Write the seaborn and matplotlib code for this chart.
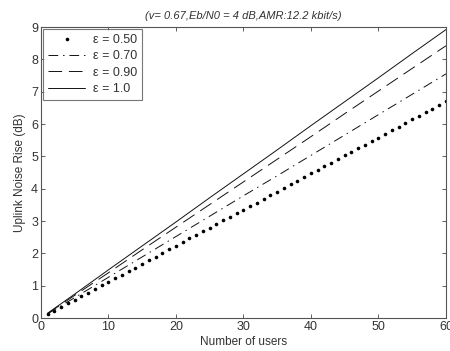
import matplotlib
matplotlib.use("Agg")
import matplotlib.pyplot as plt
import seaborn as sns

users_dense = list(range(1, 61))
nr_050 = [0.11, 0.22, 0.34, 0.45, 0.56, 0.67, 0.78, 0.89, 1.01, 1.12,
          1.23, 1.34, 1.45, 1.56, 1.68, 1.79, 1.90, 2.01, 2.12, 2.23,
          2.35, 2.46, 2.57, 2.68, 2.79, 2.90, 3.02, 3.13, 3.24, 3.35,
          3.46, 3.57, 3.69, 3.80, 3.91, 4.02, 4.13, 4.24, 4.36, 4.47,
          4.58, 4.69, 4.80, 4.91, 5.03, 5.14, 5.25, 5.36, 5.47, 5.58,
          5.70, 5.81, 5.92, 6.03, 6.14, 6.25, 6.37, 6.48, 6.59, 6.70]

users = [1, 5, 10, 15, 20, 25, 30, 35, 40, 45, 50, 55, 60]
nr_070 = [0.13, 0.63, 1.26, 1.89, 2.52, 3.15, 3.78, 4.40, 5.03, 5.66, 6.29, 6.92, 7.55]
nr_090 = [0.14, 0.70, 1.40, 2.11, 2.81, 3.51, 4.21, 4.91, 5.61, 6.32, 7.02, 7.72, 8.42]
nr_100 = [0.15, 0.74, 1.49, 2.23, 2.97, 3.72, 4.46, 5.20, 5.95, 6.69, 7.43, 8.18, 8.92]

labels = ["ε = 0.50", "ε = 0.70", "ε = 0.90", "ε = 1.0"]
title = "(v= 0.67,Eb/N0 = 4 dB,AMR:12.2 kbit/s)"
xlabel = "Number of users"
ylabel = "Uplink Noise Rise (dB)"
xticks = [0, 10, 20, 30, 40, 50, 60]
yticks = [0, 1, 2, 3, 4, 5, 6, 7, 8, 9]

sns.set_style("white")
plt.rcParams["font.family"] = ["Liberation Sans", "DejaVu Sans"]

fig = plt.figure(figsize=(4.5, 3.51), dpi=100)
ax = fig.add_axes([0.091, 0.094, 0.9, 0.829])

sns.lineplot(x=users_dense, y=nr_050, ax=ax, color="black", linestyle="none",
             marker="o", markersize=2.6, markeredgewidth=0, label=labels[0])
sns.lineplot(x=users, y=nr_070, ax=ax, color="#111111", linewidth=0.7,
             label=labels[1]).lines[-1].set_dashes([10, 5, 1.5, 5])
sns.lineplot(x=users, y=nr_090, ax=ax, color="#111111", linewidth=0.7,
             label=labels[2]).lines[-1].set_dashes([14, 7])
sns.lineplot(x=users, y=nr_100, ax=ax, color="#111111", linewidth=0.7,
             label=labels[3])

ax.set_xlim(0, 60)
ax.set_ylim(0, 9)
ax.set_xticks(xticks)
ax.set_yticks(yticks)
ax.tick_params(direction="in", length=3, width=0.6, labelsize=9,
               top=True, right=True, bottom=True, left=True, colors="#444444",
               labelcolor="#333333", pad=2)
for s in ax.spines.values():
    s.set_color("#555555")
    s.set_linewidth(0.8)
ax.set_xlabel(xlabel, fontsize=8.5, color="#333333", labelpad=2)
ax.set_ylabel(ylabel, fontsize=8.5, color="#333333", labelpad=4)
ax.set_title(title, fontsize=8, style="italic", color="#333333", pad=6)

leg = ax.legend(loc="upper left", fontsize=9, handlelength=3.0, handletextpad=0.6,
                borderaxespad=0.15, fancybox=False, frameon=True,
                borderpad=0.4, labelspacing=0.35, markerscale=1.0)
leg.get_frame().set_edgecolor("#555555")
leg.get_frame().set_linewidth(0.8)
for t in leg.get_texts():
    t.set_color("#333333")

fig.savefig("out.png", dpi=100)
